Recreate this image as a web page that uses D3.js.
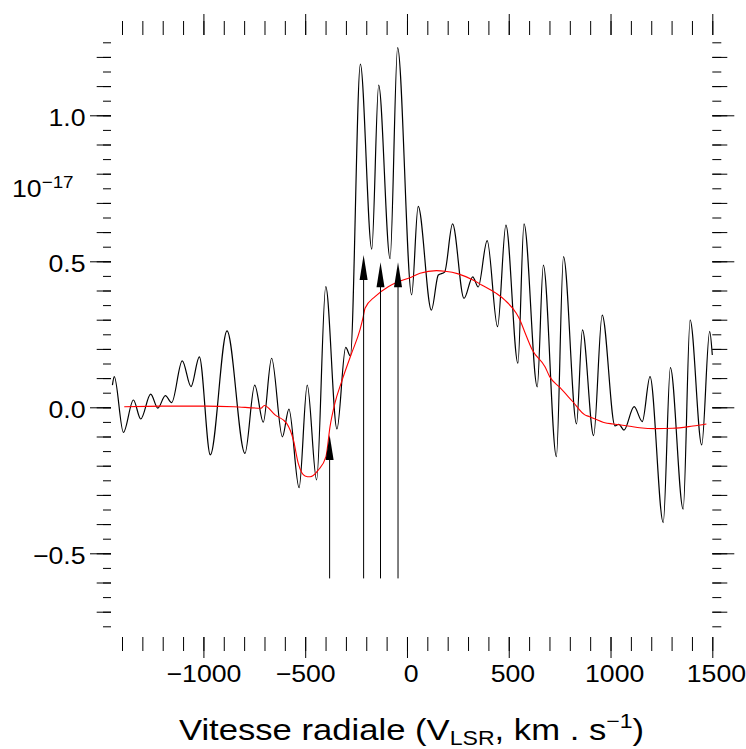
<!DOCTYPE html>
<html>
<head>
<meta charset="utf-8">
<script src="https://cdn.jsdelivr.net/npm/d3@7"></script>
<style>
  html, body { margin: 0; padding: 0; background: #fff; }
  svg { display: block; }
  text { font-family: "Liberation Sans", Arial, sans-serif; fill: #000; }
</style>
</head>
<body>
<svg id="chart" width="746" height="749"></svg>
<script>
// Observed spectrum: radial velocity (km/s) and flux (units of 1e-17)
const velocity = [
  -1447, -1438, -1393, -1344, -1308, -1259, -1224, -1187, -1156, -1104,
  -1061, -1020, -966, -884, -796, -748, -706, -665, -612, -580,
  -530, -490, -444, -399, -344, -301, -278, -229, -173, -139,
  -83, -46, 23, 55, 120, 154, 185, 224, 280, 323,
  350, 394, 445, 486, 545, 575, 640, 670, 734, 769,
  833, 862, 917, 959, 1022, 1041, 1066, 1116, 1156, 1194,
  1259, 1294, 1357, 1391, 1448, 1487, 1500
];
const flux = [
  0.076, 0.105, -0.086, 0.025, -0.040, 0.045, -0.003, 0.040, 0.016, 0.159,
  0.071, 0.173, -0.163, 0.262, -0.158, 0.076, -0.051, 0.168, -0.101, -0.006,
  -0.275, 0.076, -0.249, 0.413, -0.074, 0.205, 0.176, 1.175, 0.542, 1.103,
  0.509, 1.232, 0.385, 0.688, 0.333, 0.453, 0.463, 0.628, 0.373, 0.447,
  0.412, 0.571, 0.276, 0.624, 0.151, 0.628, 0.070, 0.487, -0.169, 0.516,
  -0.057, 0.265, -0.097, 0.316, -0.064, -0.058, -0.078, 0.002, -0.049, 0.105,
  -0.395, 0.136, -0.349, 0.299, -0.129, 0.260, 0.179
];

// Smooth fitted profile
const fitVelocity = [
  -1389, -1200, -987, -850, -717, -701, -648, -591, -558, -534,
  -501, -476, -436, -398, -378, -354, -321, -272, -231, -215,
  -206, -157, -92, -43, 15, 64, 145, 187, 252, 324,
  367, 439, 481, 537, 555, 578, 616, 678, 701, 751,
  815, 874, 897, 972, 1012, 1104, 1143, 1222, 1306, 1405,
  1471
];
const fitFlux = [
  0.002, 0.004, 0.004, 0.002, -0.003, 0.006, -0.026, -0.055, -0.112, -0.192,
  -0.235, -0.238, -0.215, -0.169, -0.066, 0.014, 0.088, 0.185, 0.265, 0.310,
  0.339, 0.379, 0.413, 0.430, 0.444, 0.459, 0.468, 0.466, 0.457, 0.436,
  0.419, 0.390, 0.367, 0.322, 0.299, 0.259, 0.196, 0.139, 0.105, 0.068,
  0.019, -0.026, -0.032, -0.053, -0.057, -0.066, -0.070, -0.073, -0.072, -0.064,
  -0.057
];

// Velocity markers (arrows)
const markerVelocity = [-380, -213, -130, -44];
const markerTop = [-0.095, 0.522, 0.497, 0.497];
const markerBottom = -0.586;

// Axis tick labels
const xTickLabels = [-1000, -500, 0, 500, 1000, 1500];
const yTickLabels = [-0.5, 0.0, 0.5, 1.0];

const svg = d3.select("#chart");
const frame = { left: 111, right: 712.3, top: 35, bottom: 637 };
const textScale = 1.11;

const x = d3.scaleLinear().domain([-1400, 1500]).range([122, 712.3]);
const y = d3.scaleLinear().domain([-0.75, 1.25]).range([626.3, 42.3]);

// ---- ticks -------------------------------------------------------------
const xMinor = d3.range(-1400, 1501, 100);
const yIdx = d3.range(-15, 26);
const yFine = yIdx.map(i => +(i * 0.05).toFixed(2));
const yMid = yIdx.filter(i => i % 2 === 0).map(i => +(i * 0.05).toFixed(2));

function place(axis, tx, ty) {
  const g = svg.append("g").attr("transform", `translate(${tx},${ty})`).call(axis);
  g.select(".domain").remove();
  g.selectAll(".tick line").attr("stroke", "#000").attr("stroke-width", 1);
  return g;
}
const noLabel = () => "";

// top / bottom
place(d3.axisTop(x).tickValues(xMinor).tickSize(14).tickFormat(noLabel), 0, frame.top);
place(d3.axisTop(x).tickValues(xTickLabels).tickSize(21).tickFormat(noLabel), 0, frame.top);
place(d3.axisBottom(x).tickValues(xMinor).tickSize(14).tickFormat(noLabel), 0, frame.bottom);
const xLab = place(d3.axisBottom(x).tickValues(xTickLabels).tickSize(21)
  .tickFormat(d3.format("d")), 0, frame.bottom);
xLab.selectAll(".tick text")
  .attr("x", 0).attr("y", 0).attr("dy", 0)
  .attr("font-size", 24)
  .attr("text-anchor", "middle")
  .attr("transform", d => `translate(${d >= 0 ? 3.6 : 0},44.7) scale(${textScale},1)`);

// left / right
place(d3.axisLeft(y).tickValues(yFine).tickSize(8).tickFormat(noLabel), frame.left, 0);
place(d3.axisLeft(y).tickValues(yMid).tickSize(14.3).tickFormat(noLabel), frame.left, 0);
const yLab = place(d3.axisLeft(y).tickValues(yTickLabels).tickSize(21)
  .tickFormat(d3.format(".1f")), frame.left, 0);
yLab.selectAll(".tick text")
  .attr("x", 0).attr("y", 0).attr("dy", 0)
  .attr("font-size", 24)
  .attr("text-anchor", "end")
  .attr("transform", `translate(-25.5,9.9) scale(${textScale},1)`);

place(d3.axisRight(y).tickValues(yFine).tickSize(9).tickFormat(noLabel), frame.right, 0);
place(d3.axisRight(y).tickValues(yMid).tickSize(15).tickFormat(noLabel), frame.right, 0);
place(d3.axisRight(y).tickValues(yTickLabels).tickSize(22).tickFormat(noLabel), frame.right, 0);

// ---- curves ------------------------------------------------------------
const spectrum = velocity.map((v, i) => [v, flux[i]]);
const fit = fitVelocity.map((v, i) => [v, fitFlux[i]]);
const line = d3.line().x(d => x(d[0])).y(d => y(d[1])).curve(d3.curveMonotoneX);

svg.append("path").datum(spectrum)
  .attr("d", line).attr("fill", "none")
  .attr("stroke", "#000").attr("stroke-width", 1.2);

svg.append("path").datum(fit)
  .attr("d", line).attr("fill", "none")
  .attr("stroke", "#ff0000").attr("stroke-width", 1.1);

// ---- arrows ------------------------------------------------------------
const headLen = 25, headHalf = 4;
const arrows = svg.append("g");
markerVelocity.forEach((v, i) => {
  const ax = x(v), tip = y(markerTop[i]);
  arrows.append("line")
    .attr("x1", ax).attr("x2", ax)
    .attr("y1", y(markerBottom)).attr("y2", tip + headLen - 2)
    .attr("stroke", "#000").attr("stroke-width", 1);
  arrows.append("path")
    .attr("d", `M${ax},${tip}L${ax + headHalf},${tip + headLen}L${ax - headHalf},${tip + headLen}Z`)
    .attr("fill", "#000");
});

// ---- labels ------------------------------------------------------------
const unit = svg.append("text")
  .attr("font-size", 24)
  .attr("transform", `translate(12,197) scale(${textScale},1)`);
unit.append("tspan").text("10");
unit.append("tspan").attr("font-size", 17).attr("dy", -9).text("\u221217");

const title = svg.append("text")
  .attr("font-size", 30)
  .attr("text-anchor", "middle")
  .attr("transform", `translate(411.5,740) scale(1.155,1)`);
title.append("tspan").text("Vitesse radiale (V");
title.append("tspan").attr("font-size", 20).attr("dy", 5).text("LSR");
title.append("tspan").attr("dy", -5).text(", km . s");
title.append("tspan").attr("font-size", 20).attr("dy", -12).text("\u22121");
title.append("tspan").attr("dy", 12).text(")");
</script>
</body>
</html>
